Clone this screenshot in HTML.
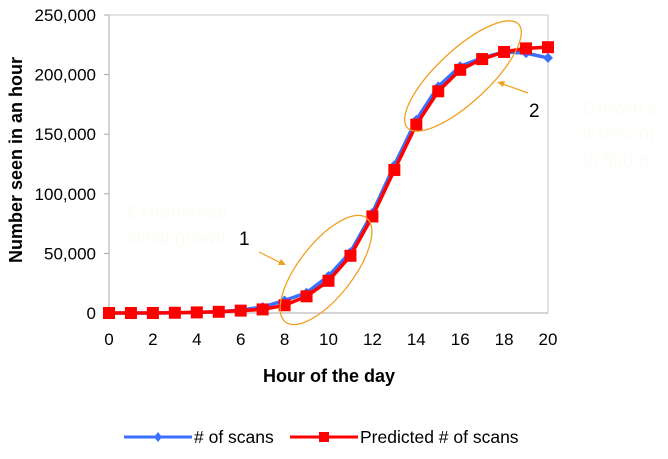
<!DOCTYPE html>
<html><head><meta charset="utf-8"><style>
body{margin:0;background:#fff;}
svg{display:block;font-family:"Liberation Sans",Arial,sans-serif;}
</style></head><body>
<svg id="chart" width="668" height="459" viewBox="0 0 668 459" xmlns="http://www.w3.org/2000/svg">
<g id="axes"></g>
<g id="series"></g>
<g>
 <text x="127" y="218" font-size="19" font-style="italic" fill="#fefbf4">Exponential</text>
 <text x="126" y="244" font-size="19" fill="#fefbf4">initial growth</text>
 <text x="582" y="114" font-size="19" fill="#fefbf4">Growth s</text>
 <text x="582" y="140" font-size="19" fill="#fefbf4">It becom</text>
 <text x="582" y="166" font-size="19" fill="#fefbf4">to find n</text>
 <ellipse cx="326" cy="270" rx="66" ry="27" transform="rotate(-52 326 270)" fill="none" stroke="#f0a020" stroke-width="1.3"/>
 <ellipse cx="463" cy="76" rx="76" ry="26" transform="rotate(-43 463 76)" fill="none" stroke="#f0a020" stroke-width="1.3"/>
 <line x1="259" y1="252" x2="283" y2="264" stroke="#f0a020" stroke-width="1.2"/>
 <polygon points="286,265 278,265 281,259" fill="#f0a020"/>
 <line x1="528" y1="93" x2="500" y2="83" stroke="#f0a020" stroke-width="1.2"/>
 <polygon points="497,82 505,81 503,87" fill="#f0a020"/>
 <text x="239" y="245" font-size="19" fill="#000">1</text>
 <text x="529" y="117" font-size="19" fill="#000">2</text>
</g>
<g>
 <line x1="124" y1="437" x2="192" y2="437" stroke="#3a6fff" stroke-width="3"/>
 <polygon points="158,432 162,437 158,442 154,437" fill="#3a6fff"/>
 <text x="194" y="443" font-size="17.5" fill="#000"># of scans</text>
 <line x1="290" y1="437" x2="358" y2="437" stroke="#ff0000" stroke-width="3"/>
 <rect x="319" y="432" width="10" height="10" fill="#ff0000"/>
 <text x="360" y="443" font-size="17.5" fill="#000">Predicted # of scans</text>
</g>
</svg>
<script>
const hours = [0,1,2,3,4,5,6,7,8,9,10,11,12,13,14,15,16,17,18,19,20];
const scans = [0,0,0,200,500,1000,2500,5000,10500,17000,31000,51000,84000,124000,162000,190000,207000,214000,219000,218000,214000];
const predicted = [0,0,0,200,500,1000,2000,3000,6500,14000,27000,48000,81000,120000,158000,186000,204000,213000,219000,222000,223000];
const yTicks = [0,50000,100000,150000,200000,250000];
const xTicks = [0,2,4,6,8,10,12,14,16,18,20];

const X0=109,X1=548,Y0=313,Y1=15;
const xs = h => X0 + (h-0)/(20-0)*(X1-X0);
const ys = v => Y0 - v/250000*(Y0-Y1);
const NS="http://www.w3.org/2000/svg";
function mk(tag, attrs, parent){const e=document.createElementNS(NS,tag);for(const k in attrs)e.setAttribute(k,attrs[k]);parent.appendChild(e);return e;}
const axes=document.getElementById('axes'), series=document.getElementById('series');

const frame=mk('rect',{x:X0,y:Y1,width:X1-X0,height:Y0-Y1,fill:'none',stroke:'#c8c8c8','stroke-width':1},axes);


const yaxis=mk('line',{x1:X0,y1:Y1,x2:X0,y2:Y0,stroke:'#aaa','stroke-width':1},axes);


const xaxis=mk('line',{x1:X0,y1:Y0,x2:X1,y2:Y0,stroke:'#aaa','stroke-width':1},axes);



yTicks.forEach(v=>{
  const y=ys(v);
  mk('line',{x1:X0-5,y1:y,x2:X0,y2:y,stroke:'#aaa'},axes);
  const t=mk('text',{x:96,y:y+6,'text-anchor':'end','font-size':17,fill:'#000'},axes);
  t.textContent=v.toLocaleString('en-US');
  
  
});
xTicks.forEach(h=>{
  const t=mk('text',{x:xs(h),y:345,'text-anchor':'middle','font-size':17,fill:'#000'},axes);
  t.textContent=h;
  
  
});
const xt=mk('text',{x:329,y:382,'text-anchor':'middle','font-size':18,'font-weight':'bold',fill:'#000'},axes);
xt.textContent='Hour of the day';


const yt=mk('text',{x:0,y:0,'text-anchor':'middle','font-size':18,'font-weight':'bold',fill:'#000',transform:'translate(22,160) rotate(-90)'},axes);
yt.textContent='Number seen in an hour';



function pts(arr){return hours.map((h,i)=>xs(h)+','+ys(arr[i])).join(' ');}
const lb=mk('polyline',{points:pts(scans),fill:'none',stroke:'#3a6fff','stroke-width':3.5,'stroke-linejoin':'round'},series);


hours.forEach((h,i)=>{
  const x=xs(h),y=ys(scans[i]);
  const p=mk('polygon',{points:`${x},${y-5} ${x+5},${y} ${x},${y+5} ${x-5},${y}`,fill:'#3a6fff'},series);
  
  
});
const lr=mk('polyline',{points:pts(predicted),fill:'none',stroke:'#ff0000','stroke-width':3.5,'stroke-linejoin':'round'},series);


hours.forEach((h,i)=>{
  const x=xs(h),y=ys(predicted[i]);
  const r=mk('rect',{x:x-6,y:y-6,width:12,height:12,fill:'#ff0000'},series);
  
  
});
</script>
</body></html>
